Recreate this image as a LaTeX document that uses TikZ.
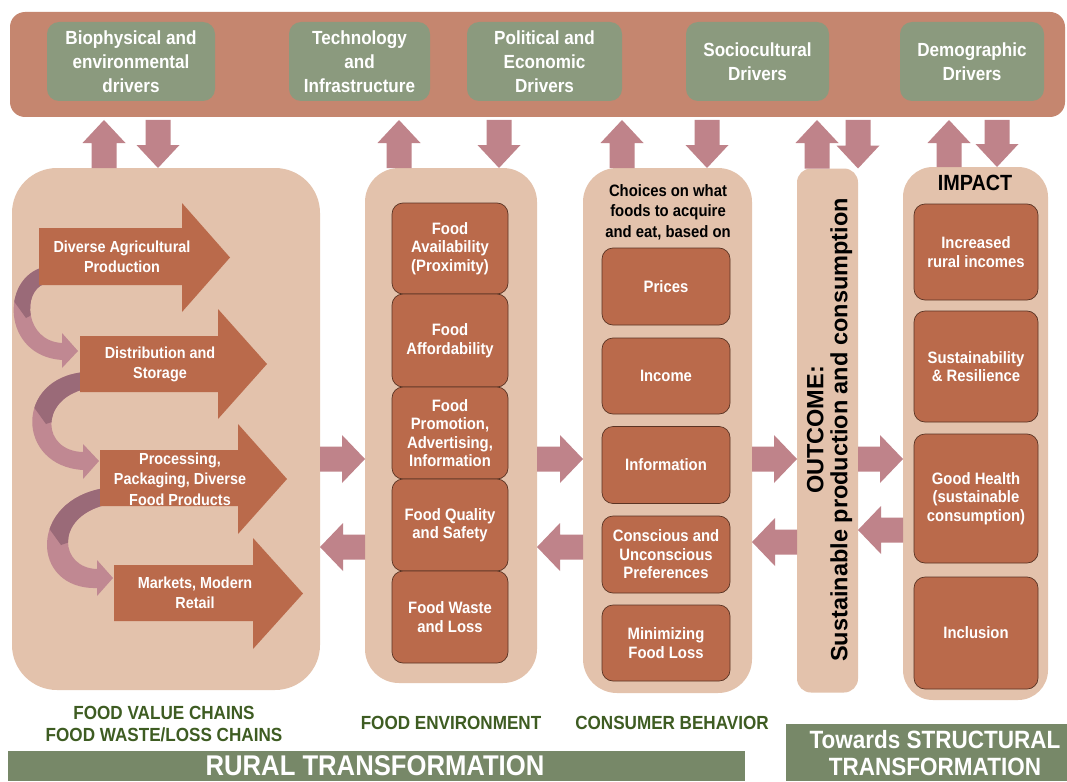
\documentclass[tikz,border=0pt]{standalone}
\usepackage{fontspec}
\setmainfont{Liberation Sans}[FakeStretch=0.9]
\newfontfamily\plainsans{Liberation Sans}
\usetikzlibrary{calc}

\definecolor{barc}{HTML}{C5866F}
\definecolor{drvc}{HTML}{8B9A7E}
\definecolor{arrc}{HTML}{BF838A}
\definecolor{colc}{HTML}{E3C2AC}
\definecolor{boxc}{HTML}{BA6A4B}
\definecolor{boxedge}{HTML}{5A3424}
\definecolor{curldark}{HTML}{9A6A78}
\definecolor{curllight}{HTML}{C08892}
\definecolor{bargreen}{HTML}{778868}
\definecolor{labgreen}{HTML}{3E5C22}

\newcommand{\fsz}[2]{\fontsize{#1pt}{#2pt}\selectfont}

% block arrow from #2 to #3, optional head half-width #1
\newcommand{\blockarr}[3][24]{%
  \coordinate (bh) at ($(#3)!23pt!(#2)$);
  \fill[arrc] ($(#2)!12.5pt!90:(#3)$) -- ($(bh)!12.5pt!90:(#3)$) -- ($(bh)!#1pt!90:(#3)$) -- (#3)
     -- ($(bh)!#1pt!-90:(#3)$) -- ($(bh)!12.5pt!-90:(#3)$) -- ($(#2)!12.5pt!-90:(#3)$) -- cycle;}

\tikzset{
  every node/.style={inner sep=0pt, outer sep=0pt},
  topbar/.style={fill=barc, rounded corners=15pt, outer sep=3pt},
  drv/.style={fill=drvc, rounded corners=12pt, text=white, font=\bfseries\fsz{19}{24}, align=center},
  colbox/.style={fill=colc},
  ibox/.style={fill=boxc, draw=boxedge, line width=0.7pt, rounded corners=11pt, text=white,
               font=\bfseries\fsz{16.5}{18.5}, align=center},
  bigarr/.style={fill=boxc},
  atext/.style={text=white, font=\bfseries\fsz{16}{20.5}, align=center},
  choices/.style={text=black, font=\bfseries\fsz{16.5}{20.5}, align=center},
  impact/.style={text=black, font=\bfseries\fsz{22}{24}},
  outcome/.style={text=black, font=\plainsans\bfseries\fsz{23.5}{24}, align=center},
  botlab/.style={text=labgreen, font=\bfseries\fsz{19}{22}, align=center},
  botbar/.style={fill=bargreen},
  bottext/.style={text=white, align=center},
}

\begin{document}
\begin{tikzpicture}[x=1pt,y=-1pt]
\useasboundingbox (0,0) rectangle (1067,781);
\fill[white] (0,0) rectangle (1067,781);

% ---------- drivers bar ----------
\node[topbar, minimum width=1055pt, minimum height=105pt] (bar) at (537.5,64.5) {};
\node[drv, minimum width=168pt, minimum height=79pt] (d1) at (131,61.5) {Biophysical and\\environmental\\drivers};
\node[drv, minimum width=141pt, minimum height=79pt] (d2) at (359.5,61.5) {Technology\\and\\Infrastructure};
\node[drv, minimum width=155pt, minimum height=79pt] (d3) at (544.5,61.5) {Political and\\Economic\\Drivers};
\node[drv, minimum width=143pt, minimum height=79pt] (d4) at (757.5,61.5) {Sociocultural\\Drivers};
\node[drv, minimum width=144pt, minimum height=79pt] (d5) at (972,61.5) {Demographic\\Drivers};

% ---------- columns ----------
\node[colbox, rounded corners=45pt, minimum width=308pt, minimum height=522pt] (c1) at (166,429) {};
\node[colbox, rounded corners=34pt, minimum width=172pt, minimum height=515pt] (c2) at (451,425.5) {};
\node[colbox, rounded corners=34pt, minimum width=169pt, minimum height=525pt] (c3) at (667.5,430.5) {};
\node[colbox, rounded corners=14pt, minimum width=61pt, minimum height=524pt] (c4) at (827.5,430.5) {};
\node[colbox, rounded corners=30pt, minimum width=145pt, minimum height=533pt] (c5) at (975.5,433.5) {};

% ---------- vertical arrows ----------
\coordinate (vx1) at (104,0);  \coordinate (vx2) at (158,0);
\coordinate (vx3) at (399,0);  \coordinate (vx4) at (499,0);
\coordinate (vx5) at (622,0);  \coordinate (vx6) at (707,0);
\coordinate (vx7) at (817,0);  \coordinate (vx8) at (858,0);
\coordinate (vx9) at (949,0);  \coordinate (vx10) at (997,0);
\blockarr[21.5]{c1.north -| vx1}{bar.south -| vx1}
\blockarr[21.5]{bar.south -| vx2}{c1.north -| vx2}
\blockarr[21.5]{c2.north -| vx3}{bar.south -| vx3}
\blockarr[21.5]{bar.south -| vx4}{c2.north -| vx4}
\blockarr[21.5]{c3.north -| vx5}{bar.south -| vx5}
\blockarr[21.5]{bar.south -| vx6}{c3.north -| vx6}
\blockarr[21.5]{c4.north -| vx7}{bar.south -| vx7}
\blockarr[21.5]{bar.south -| vx8}{c4.north -| vx8}
\blockarr[21.5]{c5.north -| vx9}{bar.south -| vx9}
\blockarr[21.5]{bar.south -| vx10}{c5.north -| vx10}

% ---------- horizontal arrows ----------
\coordinate (hy1) at (0,459);
\coordinate (hy2) at (0,547);
\coordinate (hy3) at (0,542);
\coordinate (hy4) at (0,530);
\blockarr{c1.east |- hy1}{c2.west |- hy1}
\blockarr{c2.west |- hy2}{c1.east |- hy2}
\blockarr{c2.east |- hy1}{c3.west |- hy1}
\blockarr{c3.west |- hy2}{c2.east |- hy2}
\blockarr{c3.east |- hy1}{c4.west |- hy1}
\blockarr{c4.west |- hy3}{c3.east |- hy3}
\blockarr{c4.east |- hy1}{c5.west |- hy1}
\blockarr{c5.west |- hy4}{c4.east |- hy4}

% ---------- column 1: value chain curls ----------
% curl 1
\fill[curllight] (44,267) .. controls (0,278) and (2,356) .. (62,360) -- (62,368) -- (78,351) -- (62,333) -- (62,343)
   .. controls (25,341) and (22,292) .. (44,284) -- cycle;
\begin{scope}
\clip (0,240) -- (60,240) -- (60,300) -- (26,318) -- (8,293) -- (0,285) -- cycle;
\fill[curldark] (44,267) .. controls (0,278) and (2,356) .. (62,360) -- (62,368) -- (78,351) -- (62,333) -- (62,343)
   .. controls (25,341) and (22,292) .. (44,284) -- cycle;
\end{scope}
% curl 2
\fill[curllight] (85,372) .. controls (14,378) and (16,466) .. (83,470) -- (83,479) -- (99,461) -- (83,444) -- (83,452)
   .. controls (42,451) and (39,400) .. (85,389) -- cycle;
\begin{scope}
\clip (0,360) -- (100,360) -- (100,405) -- (46,424) -- (28,399) -- (0,380) -- cycle;
\fill[curldark] (85,372) .. controls (14,378) and (16,466) .. (83,470) -- (83,479) -- (99,461) -- (83,444) -- (83,452)
   .. controls (42,451) and (39,400) .. (85,389) -- cycle;
\end{scope}
% curl 3
\fill[curllight] (105,488) .. controls (28,500) and (30,590) .. (97,588) -- (97,596) -- (113,578) -- (97,560) -- (97,569)
   .. controls (60,568) and (54,518) .. (105,505) -- cycle;
\begin{scope}
\clip (20,470) -- (120,470) -- (120,525) -- (61,545) -- (43,520) -- (20,505) -- cycle;
\fill[curldark] (105,488) .. controls (28,500) and (30,590) .. (97,588) -- (97,596) -- (113,578) -- (97,560) -- (97,569)
   .. controls (60,568) and (54,518) .. (105,505) -- cycle;
\end{scope}

% ---------- column 1: value chain arrows ----------
\fill[bigarr] (39,228) -- (182,228) -- (182,203) -- (230,257.5) -- (182,312) -- (182,285) -- (39,285) -- cycle;
\fill[bigarr] (80,336) -- (218,336) -- (218,309) -- (267,364) -- (218,419) -- (218,392) -- (80,392) -- cycle;
\fill[bigarr] (100,450) -- (238,450) -- (238,424) -- (287,479) -- (238,534) -- (238,506) -- (100,506) -- cycle;
\fill[bigarr] (114,565) -- (253,565) -- (253,538) -- (303,593.5) -- (253,649) -- (253,621) -- (114,621) -- cycle;

\node[atext] (p1) at (122,257) {Diverse Agricultural\\Production};
\node[atext] (p2) at (160,364.5) {Distribution and\\Storage};
\node[atext] (p3) at (180,479) {Processing,\\Packaging, Diverse\\Food Products};
\node[atext] (p4) at (195,593) {Markets, Modern\\Retail};

% ---------- column 2: food environment ----------
\node[ibox, minimum width=116pt, minimum height=91pt] (e1) at (450,248.5) {Food\\Availability\\(Proximity)};
\node[ibox, minimum width=116pt, minimum height=93pt] (e2) at (450,340.5) {Food\\Affordability};
\node[ibox, minimum width=116pt, minimum height=92pt] (e3) at (450,433) {Food\\Promotion,\\Advertising,\\Information};
\node[ibox, minimum width=116pt, minimum height=92pt] (e4) at (450,525) {Food Quality\\and Safety};
\node[ibox, minimum width=116pt, minimum height=92pt] (e5) at (450,617) {Food Waste\\and Loss};

% ---------- column 3: consumer behaviour ----------
\node[choices] (ch) at (668,212) {Choices on what\\foods to acquire\\and eat, based on};
\node[ibox, minimum width=128pt, minimum height=77pt] (f1) at (666,286.5) {Prices};
\node[ibox, minimum width=128pt, minimum height=76pt] (f2) at (666,376) {Income};
\node[ibox, minimum width=128pt, minimum height=77pt] (f3) at (666,465) {Information};
\node[ibox, minimum width=128pt, minimum height=77pt] (f4) at (666,554.5) {Conscious and\\Unconscious\\Preferences};
\node[ibox, minimum width=128pt, minimum height=76pt] (f5) at (666,643) {Minimizing\\Food Loss};

% ---------- column 4: outcome ----------
\node[outcome, rotate=90] (oc) at (829.5,430) {OUTCOME:\\Sustainable production and consumption};

% ---------- column 5: impact ----------
\node[impact] (im) at (975,183) {IMPACT};
\node[ibox, minimum width=124pt, minimum height=96pt] (g1) at (976,252) {Increased\\rural incomes};
\node[ibox, minimum width=124pt, minimum height=111pt] (g2) at (976,366.5) {Sustainability\\\& Resilience};
\node[ibox, minimum width=124pt, minimum height=129pt] (g3) at (976,498.5) {Good Health\\(sustainable\\consumption)};
\node[ibox, minimum width=124pt, minimum height=112pt] (g4) at (976,633) {Inclusion};

% ---------- bottom labels ----------
\node[botlab] (l1) at (164,724) {FOOD VALUE CHAINS\\FOOD WASTE/LOSS CHAINS};
\node[botlab] (l2) at (451,723) {FOOD ENVIRONMENT};
\node[botlab] (l3) at (672,723) {CONSUMER BEHAVIOR};

\node[botbar, minimum width=737pt, minimum height=30pt] (rt) at (376.5,766) {};
\node[bottext, font=\bfseries\fsz{28.5}{28.5}] (rtt) at (375,766) {RURAL TRANSFORMATION};
\node[botbar, minimum width=299pt, minimum height=57pt] (st) at (935.5,752.5) {};
\node[bottext, font=\bfseries\fsz{25}{27.5}] (stt) at (935,753) {Towards STRUCTURAL\\TRANSFORMATION};
\end{tikzpicture}
\end{document}
